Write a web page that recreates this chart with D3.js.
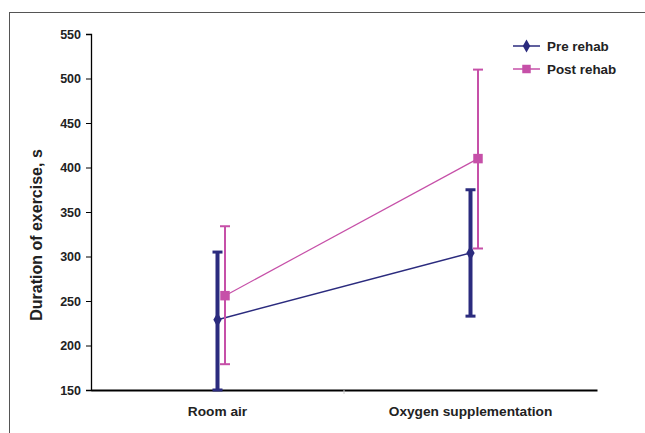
<!DOCTYPE html>
<html>
<head>
<meta charset="utf-8">
<script src="https://cdn.jsdelivr.net/npm/d3@7"></script>
<style>
  body { margin: 0; background: #fff; }
  text { font-family: "Liberation Sans", Arial, sans-serif; font-weight: bold; fill: #222; }
</style>
</head>
<body>
<script>
const categories = ['Room air', 'Oxygen supplementation'];
const yTicks = [150, 200, 250, 300, 350, 400, 450, 500, 550];

const preMean = [229, 304];
const preLow = [150, 233];
const preHigh = [305, 375];

const postMean = [256, 410];
const postLow = [179, 309];
const postHigh = [334, 510];

const series = [
  { name: 'Pre rehab', mean: preMean, low: preLow, high: preHigh, color: '#2b2b7e', offset: 0, barWidth: 4, lineWidth: 1.5, symbol: d3.symbolDiamond, size: 60 },
  { name: 'Post rehab', mean: postMean, low: postLow, high: postHigh, color: '#c650a8', offset: 7.5, barWidth: 2, lineWidth: 1.2, symbol: d3.symbolSquare, size: 90 }
];

const width = 645, height = 433;
const svg = d3.select('body').append('svg')
  .attr('width', width)
  .attr('height', height);

// outer frame
svg.append('rect')
  .attr('x', 9.5).attr('y', 12.5)
  .attr('width', 700).attr('height', 500)
  .attr('fill', 'none')
  .attr('stroke', '#555')
  .attr('stroke-width', 1);

const x = d3.scaleBand().domain(categories).range([91, 597]);
const y = d3.scaleLinear().domain([150, 550]).range([390, 34]);

// y axis
const yAxis = svg.append('g')
  .attr('transform', 'translate(91,0)')
  .call(d3.axisLeft(y).tickValues(yTicks).tickSize(5).tickPadding(5));
yAxis.select('.domain').attr('stroke', '#000').attr('stroke-width', 1.3);
yAxis.selectAll('.tick line').attr('stroke', '#000');
yAxis.selectAll('.tick text')
  .attr('font-size', 12.5)
  .attr('fill', '#222')
  .style('font-family', '"Liberation Sans", Arial, sans-serif')
  .style('font-weight', 'bold');

// x axis
const xAxis = svg.append('g')
  .attr('transform', 'translate(0,390)')
  .call(d3.axisBottom(x).tickSize(0).tickPadding(16));
xAxis.select('.domain').attr('stroke', '#000').attr('stroke-width', 1.8);
xAxis.selectAll('.tick text')
  .attr('font-size', 13.7)
  .attr('fill', '#222')
  .style('font-family', '"Liberation Sans", Arial, sans-serif')
  .style('font-weight', 'bold');
svg.append('line')
  .attr('x1', x(categories[1])).attr('x2', x(categories[1]))
  .attr('y1', 390).attr('y2', 394)
  .attr('stroke', '#ccc');

// y title
svg.append('text')
  .attr('transform', `translate(42,${(y(150) + y(550)) / 2 + 23}) rotate(-90)`)
  .attr('text-anchor', 'middle')
  .attr('font-size', 16)
  .text('Duration of exercise, s');

const cx = (c, s) => x(c) + x.bandwidth() / 2 + s.offset;

series.forEach(s => {
  const g = svg.append('g');
  const pts = categories.map((c, i) => ({ c, i }));

  // error bars
  g.selectAll('.err')
    .data(pts)
    .join('line')
      .attr('x1', d => cx(d.c, s)).attr('x2', d => cx(d.c, s))
      .attr('y1', d => y(s.low[d.i])).attr('y2', d => y(s.high[d.i]))
      .attr('stroke', s.color)
      .attr('stroke-width', s.barWidth);
  ['low', 'high'].forEach(k => {
    g.selectAll('.cap-' + k)
      .data(pts)
      .join('line')
        .attr('x1', d => cx(d.c, s) - 5).attr('x2', d => cx(d.c, s) + 5)
        .attr('y1', d => y(s[k][d.i])).attr('y2', d => y(s[k][d.i]))
        .attr('stroke', s.color)
        .attr('stroke-width', s.barWidth === 4 ? 3 : 2);
  });

  // connecting line
  g.append('path')
    .datum(pts)
    .attr('fill', 'none')
    .attr('stroke', s.color)
    .attr('stroke-width', s.lineWidth)
    .attr('d', d3.line().x(d => cx(d.c, s)).y(d => y(s.mean[d.i])));

  g.selectAll('.marker')
    .data(pts)
    .join('path')
      .attr('transform', d => `translate(${cx(d.c, s)},${y(s.mean[d.i])})`)
      .attr('d', d3.symbol().type(s.symbol).size(s.size))
      .attr('fill', s.color);
});

// legend
const legend = svg.append('g').attr('transform', 'translate(513,46)');
series.forEach((s, i) => {
  const row = legend.append('g').attr('transform', `translate(0,${i * 23})`);
  row.append('line')
    .attr('x1', 0).attr('x2', 27)
    .attr('stroke', s.color).attr('stroke-width', 1.5);
  row.append('path')
    .attr('transform', 'translate(13.5,0)')
    .attr('d', d3.symbol().type(s.symbol).size(s.size * 0.8))
    .attr('fill', s.color);
  row.append('text')
    .attr('x', 34).attr('y', 5)
    .attr('font-size', 13.4)
    .text(s.name);
});
</script>
</body>
</html>
